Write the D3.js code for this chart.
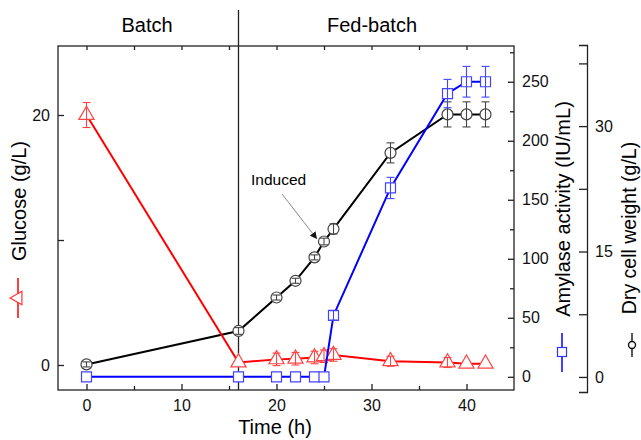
<!DOCTYPE html>
<html><head><meta charset="utf-8">
<script src="https://cdn.jsdelivr.net/npm/d3@7"></script>
<style>body{margin:0;background:#fff}svg{display:block;font-family:"Liberation Sans",Arial,sans-serif}</style>
</head><body><svg id="c" width="641" height="440"></svg>
<script>
const time = [0,16,20,22,24,25,26,32,38,40,42];
const glucose = [20,0.2,0.45,0.5,0.6,0.7,0.8,0.3,0.2,0.1,0.1];
const glucoseErr = [1.0,0,0.5,0.5,0.5,0.5,0.5,0.4,0.4,0,0];
const amylase = [0,0,0,0,0,0,52,160,240,250,250];
const amylaseErr = [0,0,0,0,0,0,4,9,12,13,13];
const dcw = [1.5,5.5,9.5,11.5,14.3,16.2,17.7,26.8,31.4,31.4,31.4];
const dcwErr = [0.3,0.4,0.3,0.3,0.3,0.4,0.6,1.2,1.5,1.5,1.5];
const xTicks = [0,10,20,30,40];
const glucoseTicks = [0,20];
const amylaseTicks = [0,50,100,150,200,250];
const dcwTicks = [0,15,30];
const phases = ["Batch","Fed-batch"];
const phaseSwitch = 16;

const svg = d3.select("#c");
const L=58,R=514,T=46,B=390;
const x = d3.scaleLinear().domain([-3,45]).range([L,R]);
const yG = d3.scaleLinear().domain([-2,25.52]).range([B,T]);
const yA = d3.scaleLinear().domain([-11.2,280.3]).range([B,T]);
const yD = d3.scaleLinear().domain([-1.8,39.7]).range([392,45]);
const axCol="#222";

// phase divider
svg.append("line").attr("x1",x(phaseSwitch)).attr("x2",x(phaseSwitch)).attr("y1",10).attr("y2",B).attr("stroke",axCol).attr("stroke-width",1.3);
svg.append("text").attr("x",147).attr("y",32).attr("text-anchor","middle").attr("font-size",20).text(phases[0]);
svg.append("text").attr("x",372).attr("y",32).attr("text-anchor","middle").attr("font-size",20).text(phases[1]);

// frame
svg.append("rect").attr("x",L).attr("y",T).attr("width",R-L).attr("height",B-T).attr("fill","none").attr("stroke",axCol).attr("stroke-width",1.3);

// bottom axis
const xa = svg.append("g").attr("transform",`translate(0,${B})`)
  .call(d3.axisBottom(x).tickValues(xTicks).tickSize(-6).tickPadding(10).tickFormat(d3.format("d")));
const xt = svg.append("g").attr("transform",`translate(0,${B})`)
  .call(d3.axisBottom(x).tickValues(d3.range(5,45,10)).tickSize(-4).tickFormat(""));
const xtop = svg.append("g").attr("transform",`translate(0,${T})`)
  .call(d3.axisTop(x).tickValues(d3.range(0,45,5)).tickSize(-4).tickFormat(""));
// left axis
const ya = svg.append("g").attr("transform",`translate(${L},0)`)
  .call(d3.axisLeft(yG).tickValues([0,10,20]).tickSize(-6).tickPadding(8).tickFormat(d=>glucoseTicks.includes(d)?d:""));
// amylase axis
const aa = svg.append("g").attr("transform",`translate(${R},0)`)
  .call(d3.axisRight(yA).tickValues(amylaseTicks).tickSize(-6).tickPadding(8));
const aa2 = svg.append("g").attr("transform",`translate(${R},0)`)
  .call(d3.axisRight(yA).tickValues(d3.range(25,280,50)).tickSize(-4).tickFormat(""));
// dcw axis
const da = svg.append("g").attr("transform",`translate(587,0)`)
  .call(d3.axisRight(yD).tickValues(d3.range(0,40,7.5)).tickSize(-8).tickPadding(8).tickFormat(d=>dcwTicks.includes(d)?d:""));
[xa,xt,xtop,ya,aa,aa2,da].forEach(g=>{
  g.selectAll("path.domain").attr("stroke",axCol).attr("stroke-width",1.3);
  g.selectAll("line").attr("stroke",axCol).attr("stroke-width",1.3);
  g.selectAll("text").attr("font-size",16).attr("fill","#111").attr("font-family","Liberation Sans, Arial, sans-serif");
});
[xa,xt,xtop,ya,aa,aa2].forEach(g=>g.select("path.domain").remove());

// axis titles
svg.append("text").attr("x",275).attr("y",434).attr("text-anchor","middle").attr("font-size",20).text("Time (h)");
svg.append("text").attr("transform","translate(26,201) rotate(-90)").attr("text-anchor","middle").attr("font-size",20).text("Glucose (g/L)");
svg.append("text").attr("transform","translate(570,209) rotate(-90)").attr("text-anchor","middle").attr("font-size",20).text("Amylase activity (IU/mL)");
svg.append("text").attr("transform","translate(636,228) rotate(-90)").attr("text-anchor","middle").attr("font-size",19.5).text("Dry cell weight (g/L)");
// legend symbols
svg.append("line").attr("x1",18).attr("x2",18).attr("y1",278).attr("y2",318).attr("stroke","#f00").attr("stroke-width",1.5);
svg.append("path").attr("d",d3.symbol(d3.symbolTriangle,80)()).attr("transform","translate(18,298) rotate(-90)").attr("fill","#fff").attr("stroke","#f33").attr("stroke-width",1.2);
svg.append("line").attr("x1",562).attr("x2",562).attr("y1",333).attr("y2",372).attr("stroke","#00f").attr("stroke-width",1.5);
svg.append("rect").attr("x",557.5).attr("y",347.5).attr("width",9).attr("height",9).attr("fill","#fff").attr("stroke","#33f").attr("stroke-width",1.2);
svg.append("line").attr("x1",632).attr("x2",632).attr("y1",333).attr("y2",357).attr("stroke","#111").attr("stroke-width",1.4);
svg.append("circle").attr("cx",632).attr("cy",345).attr("r",3.5).attr("fill","#fff").attr("stroke","#111").attr("stroke-width",1.4);

// annotation
svg.append("defs").append("marker").attr("id","ah").attr("viewBox","0 0 10 10").attr("refX",10).attr("refY",5)
  .attr("markerWidth",7).attr("markerHeight",7).attr("orient","auto").attr("markerUnits","userSpaceOnUse")
  .append("path").attr("d","M0,0L10,5L0,10z").attr("fill","#111");
svg.append("line").attr("x1",282).attr("y1",194).attr("x2",317).attr("y2",239).attr("stroke","#888").attr("stroke-width",1).attr("marker-end","url(#ah)");
svg.append("text").attr("x",251).attr("y",185).attr("font-size",15.5).text("Induced");

function series(vals, errs, yS, line, mark, symType, size){
  const d = time.map((t,i)=>({t,v:vals[i],e:errs[i]}));
  const g = svg.append("g");
  g.append("path").datum(d).attr("d",d3.line().x(p=>x(p.t)).y(p=>yS(p.v))).attr("fill","none").attr("stroke",line).attr("stroke-width",2);
  g.selectAll(".m").data(d).join("path").attr("class","m").attr("d",d3.symbol(symType,size)())
    .attr("transform",p=>`translate(${x(p.t)},${yS(p.v)})`).attr("fill","#fff").attr("stroke",mark).attr("stroke-width",1.2);
  const eb = g.selectAll(".eb").data(d.filter(p=>p.e>0)).join("g").attr("class","eb").attr("stroke",mark).attr("stroke-width",1.1);
  eb.append("line").attr("x1",p=>x(p.t)).attr("x2",p=>x(p.t)).attr("y1",p=>yS(p.v-p.e)).attr("y2",p=>yS(p.v+p.e));
  eb.append("line").attr("x1",p=>x(p.t)-4).attr("x2",p=>x(p.t)+4).attr("y1",p=>yS(p.v-p.e)).attr("y2",p=>yS(p.v-p.e));
  eb.append("line").attr("x1",p=>x(p.t)-4).attr("x2",p=>x(p.t)+4).attr("y1",p=>yS(p.v+p.e)).attr("y2",p=>yS(p.v+p.e));
  return g;
}
series(dcw,dcwErr,yD,"#000","#444",d3.symbolCircle,95);
series(glucose,glucoseErr,yG,"#f00","#f44",d3.symbolTriangle,100);
series(amylase,amylaseErr,yA,"#00f","#44f",d3.symbolSquare,100);
</script></body></html>
